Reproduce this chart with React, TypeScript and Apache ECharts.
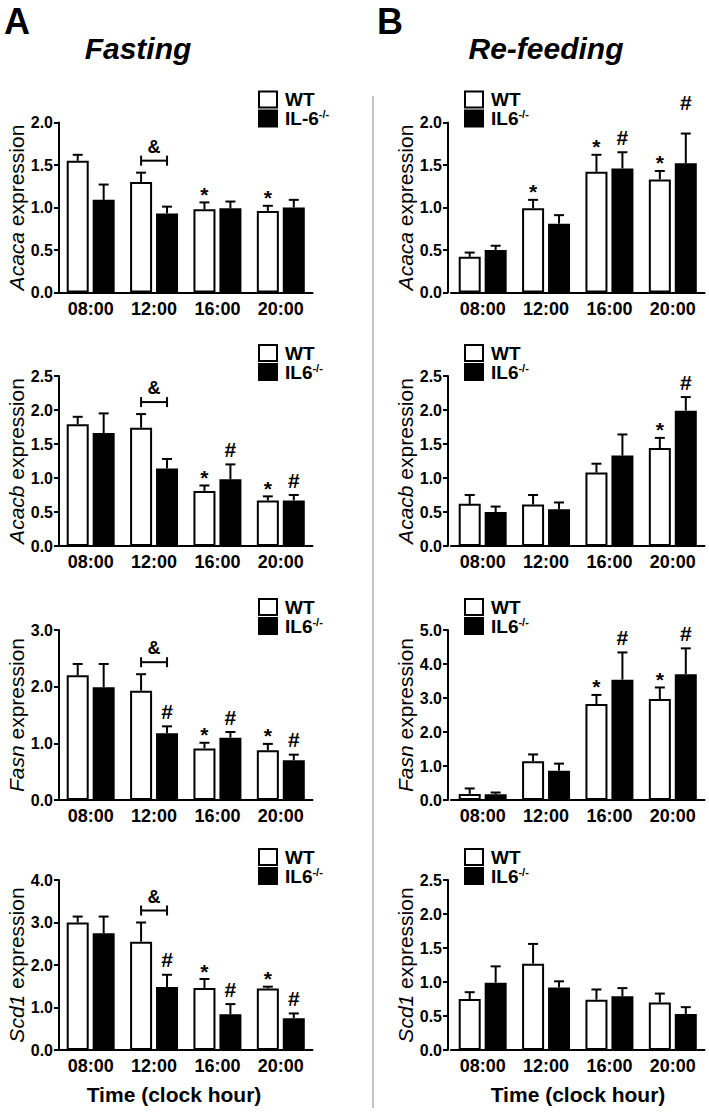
import React, { useEffect, useRef } from "react";
import * as echarts from "echarts";

const categories = ["08:00", "12:00", "16:00", "20:00"];

// ---------- A: Fasting ----------
const acacaFastTicks = [0, 0.5, 1.0, 1.5, 2.0];
const acacaFastWT = [1.55, 1.3, 0.98, 0.96];
const acacaFastWTSem = [0.07, 0.11, 0.08, 0.06];
const acacaFastKO = [1.09, 0.93, 0.99, 1.0];
const acacaFastKOSem = [0.18, 0.08, 0.08, 0.09];
const acacaFastWTMarks = ["", "", "*", "*"];
const acacaFastKOMarks = ["", "", "", ""];

const acacbFastTicks = [0, 0.5, 1.0, 1.5, 2.0, 2.5];
const acacbFastWT = [1.79, 1.74, 0.81, 0.67];
const acacbFastWTSem = [0.11, 0.2, 0.08, 0.06];
const acacbFastKO = [1.66, 1.14, 0.98, 0.67];
const acacbFastKOSem = [0.29, 0.14, 0.22, 0.08];
const acacbFastWTMarks = ["", "", "*", "*"];
const acacbFastKOMarks = ["", "", "#", "#"];

const fasnFastTicks = [0, 1.0, 2.0, 3.0];
const fasnFastWT = [2.2, 1.93, 0.91, 0.88];
const fasnFastWTSem = [0.2, 0.29, 0.1, 0.11];
const fasnFastKO = [1.99, 1.18, 1.1, 0.7];
const fasnFastKOSem = [0.41, 0.12, 0.1, 0.1];
const fasnFastWTMarks = ["", "", "*", "*"];
const fasnFastKOMarks = ["", "#", "#", "#"];

const scd1FastTicks = [0, 1.0, 2.0, 3.0, 4.0];
const scd1FastWT = [3.0, 2.55, 1.46, 1.45];
const scd1FastWTSem = [0.14, 0.45, 0.21, 0.04];
const scd1FastKO = [2.75, 1.48, 0.84, 0.75];
const scd1FastKOSem = [0.39, 0.29, 0.24, 0.11];
const scd1FastWTMarks = ["", "", "*", "*"];
const scd1FastKOMarks = ["", "#", "#", "#"];

// ---------- B: Re-feeding ----------
const acacaRefTicks = [0, 0.5, 1.0, 1.5, 2.0];
const acacaRefWT = [0.42, 0.99, 1.42, 1.33];
const acacaRefWTSem = [0.05, 0.1, 0.2, 0.1];
const acacaRefKO = [0.5, 0.81, 1.46, 1.52];
const acacaRefKOSem = [0.05, 0.1, 0.19, 0.35];
const acacaRefWTMarks = ["", "*", "*", "*"];
const acacaRefKOMarks = ["", "", "#", "#"];
// the "#" over 20:00 sits higher than its error bar, at this level
const acacaRefKOMarkLevels = [null, null, null, 2.23];

const acacbRefTicks = [0, 0.5, 1.0, 1.5, 2.0, 2.5];
const acacbRefWT = [0.62, 0.61, 1.08, 1.44];
const acacbRefWTSem = [0.13, 0.14, 0.13, 0.15];
const acacbRefKO = [0.5, 0.54, 1.33, 1.99];
const acacbRefKOSem = [0.08, 0.1, 0.31, 0.2];
const acacbRefWTMarks = ["", "", "", "*"];
const acacbRefKOMarks = ["", "", "", "#"];

const fasnRefTicks = [0, 1.0, 2.0, 3.0, 4.0, 5.0];
const fasnRefWT = [0.18, 1.14, 2.82, 2.97];
const fasnRefWTSem = [0.16, 0.2, 0.27, 0.34];
const fasnRefKO = [0.17, 0.86, 3.54, 3.7];
const fasnRefKOSem = [0.05, 0.21, 0.8, 0.76];
const fasnRefWTMarks = ["", "", "*", "*"];
const fasnRefKOMarks = ["", "", "#", "#"];

const scd1RefTicks = [0, 0.5, 1.0, 1.5, 2.0, 2.5];
const scd1RefWT = [0.75, 1.27, 0.74, 0.7];
const scd1RefWTSem = [0.1, 0.29, 0.15, 0.13];
const scd1RefKO = [0.99, 0.92, 0.79, 0.53];
const scd1RefKOSem = [0.24, 0.09, 0.12, 0.1];
const scd1RefWTMarks = ["", "", "", ""];
const scd1RefKOMarks = ["", "", "", ""];

const FONT = '"Liberation Sans", Arial, Helvetica, sans-serif';
const GRID_LEFT = [59, 451];
const GRID_W = 253.5;
const GRID_H = 170;
const ROW_TOP = [122.5, 376, 630, 880];
const BAR_W = 22;
const BAR_GAP = 0.18;
const OFF = (BAR_W * (1 + BAR_GAP)) / 2;
const LEG_BOX_X = [259, 465];
const LEG_TEXT_X = [285, 491];
const YNAME_X = [16, 405];

type Panel = {
  col: number;
  row: number;
  gene: string;
  ticks: number[];
  wt: number[];
  wtSem: number[];
  ko: number[];
  koSem: number[];
  wtMarks: string[];
  koMarks: string[];
  koMarkLevels?: (number | null)[];
  bracket: boolean;
  koName: string;
};

const panels: Panel[] = [
  { col: 0, row: 0, gene: "Acaca", ticks: acacaFastTicks, wt: acacaFastWT, wtSem: acacaFastWTSem, ko: acacaFastKO, koSem: acacaFastKOSem, wtMarks: acacaFastWTMarks, koMarks: acacaFastKOMarks, bracket: true, koName: "IL-6" },
  { col: 0, row: 1, gene: "Acacb", ticks: acacbFastTicks, wt: acacbFastWT, wtSem: acacbFastWTSem, ko: acacbFastKO, koSem: acacbFastKOSem, wtMarks: acacbFastWTMarks, koMarks: acacbFastKOMarks, bracket: true, koName: "IL6" },
  { col: 0, row: 2, gene: "Fasn", ticks: fasnFastTicks, wt: fasnFastWT, wtSem: fasnFastWTSem, ko: fasnFastKO, koSem: fasnFastKOSem, wtMarks: fasnFastWTMarks, koMarks: fasnFastKOMarks, bracket: true, koName: "IL6" },
  { col: 0, row: 3, gene: "Scd1", ticks: scd1FastTicks, wt: scd1FastWT, wtSem: scd1FastWTSem, ko: scd1FastKO, koSem: scd1FastKOSem, wtMarks: scd1FastWTMarks, koMarks: scd1FastKOMarks, bracket: true, koName: "IL6" },
  { col: 1, row: 0, gene: "Acaca", ticks: acacaRefTicks, wt: acacaRefWT, wtSem: acacaRefWTSem, ko: acacaRefKO, koSem: acacaRefKOSem, wtMarks: acacaRefWTMarks, koMarks: acacaRefKOMarks, koMarkLevels: acacaRefKOMarkLevels, bracket: false, koName: "IL6" },
  { col: 1, row: 1, gene: "Acacb", ticks: acacbRefTicks, wt: acacbRefWT, wtSem: acacbRefWTSem, ko: acacbRefKO, koSem: acacbRefKOSem, wtMarks: acacbRefWTMarks, koMarks: acacbRefKOMarks, bracket: false, koName: "IL6" },
  { col: 1, row: 2, gene: "Fasn", ticks: fasnRefTicks, wt: fasnRefWT, wtSem: fasnRefWTSem, ko: fasnRefKO, koSem: fasnRefKOSem, wtMarks: fasnRefWTMarks, koMarks: fasnRefKOMarks, bracket: false, koName: "IL6" },
  { col: 1, row: 3, gene: "Scd1", ticks: scd1RefTicks, wt: scd1RefWT, wtSem: scd1RefWTSem, ko: scd1RefKO, koSem: scd1RefKOSem, wtMarks: scd1RefWTMarks, koMarks: scd1RefKOMarks, bracket: false, koName: "IL6" },
];

type Item = { kind: string; cat: number; mean: number; top: number; s: number; text?: string; level?: number | null };

function buildItems(p: Panel): Item[] {
  const items: Item[] = [];
  for (let c = 0; c < categories.length; c++) {
    const wtTop = p.wt[c] + p.wtSem[c];
    const koTop = p.ko[c] + p.koSem[c];
    items.push({ kind: "err", cat: c, mean: p.wt[c], top: wtTop, s: -1 });
    items.push({ kind: "err", cat: c, mean: p.ko[c], top: koTop, s: 1 });
    if (p.wtMarks[c]) items.push({ kind: "mark", cat: c, mean: p.wt[c], top: wtTop, s: -1, text: p.wtMarks[c] });
    if (p.koMarks[c]) {
      const lv = p.koMarkLevels ? p.koMarkLevels[c] : null;
      items.push({ kind: "mark", cat: c, mean: p.ko[c], top: koTop, s: 1, text: p.koMarks[c], level: lv });
    }
  }
  if (p.bracket) {
    items.push({ kind: "bracket", cat: 1, mean: p.wt[1], top: p.wt[1] + p.wtSem[1], s: 0, text: "&" });
  }
  return items;
}

const BLACK = "#000";

function buildOption() {
  const grid: any[] = [];
  const xAxis: any[] = [];
  const yAxis: any[] = [];
  const series: any[] = [];
  const graphic: any[] = [];

  panels.forEach((p, i) => {
    const top = ROW_TOP[p.row];
    grid.push({ left: GRID_LEFT[p.col], top, width: GRID_W, height: GRID_H });
    xAxis.push({
      type: "category",
      gridIndex: i,
      data: categories,
      boundaryGap: true,
      axisLine: { lineStyle: { color: BLACK, width: 2 } },
      axisTick: { alignWithLabel: true, length: 6, lineStyle: { color: BLACK, width: 2 } },
      axisLabel: { color: BLACK, fontSize: 18, fontWeight: "bold", fontFamily: FONT, margin: 7, interval: 0 },
      splitLine: { show: false },
    });
    const tmin = p.ticks[0];
    const tmax = p.ticks[p.ticks.length - 1];
    const interval = p.ticks[1] - p.ticks[0];
    yAxis.push({
      type: "value",
      gridIndex: i,
      min: tmin,
      max: tmax,
      interval,
      offset: p.col === 1 ? 3 : 0,
      axisLine: { show: true, lineStyle: { color: BLACK, width: 2 } },
      axisTick: { show: true, length: 5, lineStyle: { color: BLACK, width: 2 } },
      axisLabel: {
        color: BLACK,
        fontSize: 16,
        fontWeight: "bold",
        fontFamily: FONT,
        margin: 6,
        formatter: (v: number) => v.toFixed(1),
      },
      splitLine: { show: false },
    });
    series.push({
      type: "bar",
      name: "WT",
      xAxisIndex: i,
      yAxisIndex: i,
      data: p.wt,
      barWidth: BAR_W,
      barGap: BAR_GAP * 100 + "%",
      itemStyle: { color: "#fff", borderColor: BLACK, borderWidth: 2 },
      silent: true,
    });
    series.push({
      type: "bar",
      name: "KO",
      xAxisIndex: i,
      yAxisIndex: i,
      data: p.ko,
      barWidth: BAR_W,
      barGap: BAR_GAP * 100 + "%",
      itemStyle: { color: BLACK, borderColor: BLACK, borderWidth: 2 },
      silent: true,
    });
    const items = buildItems(p);
    series.push({
      type: "custom",
      xAxisIndex: i,
      yAxisIndex: i,
      silent: true,
      clip: false,
      z: 5,
      encode: { x: 0, y: 1 },
      data: items.map((it) => [it.cat, it.top]),
      renderItem: (params: any, api: any) => {
        const it = items[params.dataIndex];
        const b = api.coord([it.cat, it.mean]);
        const t = api.coord([it.cat, it.top]);
        const cx = b[0] + it.s * OFF;
        if (it.kind === "err") {
          return {
            type: "group",
            children: [
              { type: "line", shape: { x1: cx, y1: b[1], x2: cx, y2: t[1] }, style: { stroke: BLACK, lineWidth: 2 } },
              { type: "line", shape: { x1: cx - 5, y1: t[1], x2: cx + 5, y2: t[1] }, style: { stroke: BLACK, lineWidth: 2 } },
            ],
          };
        }
        if (it.kind === "mark") {
          const star = it.text === "*";
          let y = t[1] - (star ? 8 : 15);
          if (it.level != null) y = api.coord([it.cat, it.level])[1];
          return {
            type: "text",
            x: cx,
            y,
            style: {
              text: it.text,
              fill: BLACK,
              font: `bold ${star ? 21 : 21}px ${FONT}`,
              align: "center",
              verticalAlign: "middle",
            },
          };
        }
        // bracket
        const by = t[1] - 12;
        const x1 = b[0] - OFF;
        const x2 = b[0] + OFF;
        return {
          type: "group",
          children: [
            { type: "line", shape: { x1, y1: by, x2, y2: by }, style: { stroke: BLACK, lineWidth: 2 } },
            { type: "line", shape: { x1, y1: by - 5, x2: x1, y2: by + 5 }, style: { stroke: BLACK, lineWidth: 2 } },
            { type: "line", shape: { x1: x2, y1: by - 5, x2, y2: by + 5 }, style: { stroke: BLACK, lineWidth: 2 } },
            {
              type: "text",
              x: (x1 + x2) / 2,
              y: by - 14,
              style: { text: it.text, fill: BLACK, font: `bold 18px ${FONT}`, align: "center", verticalAlign: "middle" },
            },
          ],
        };
      },
    });

    // legend
    const bx = LEG_BOX_X[p.col];
    const tx = LEG_TEXT_X[p.col];
    const wtY = top - 23;
    const koY = top - 4;
    graphic.push({
      type: "rect",
      shape: { x: bx, y: wtY - 8, width: 18, height: 16 },
      style: { fill: "#fff", stroke: BLACK, lineWidth: 2 },
    });
    graphic.push({
      type: "rect",
      shape: { x: bx, y: koY - 8, width: 18, height: 16 },
      style: { fill: BLACK, stroke: BLACK, lineWidth: 2 },
    });
    graphic.push({
      type: "text",
      x: tx,
      y: wtY,
      style: { text: "WT", fill: BLACK, font: `bold 19px ${FONT}`, align: "left", verticalAlign: "middle" },
    });
    graphic.push({
      type: "text",
      x: tx,
      y: koY,
      style: {
        text: `{m|${p.koName}}{s|-/-}`,
        fill: BLACK,
        font: `bold 19px ${FONT}`,
        align: "left",
        verticalAlign: "middle",
        rich: {
          m: { fontSize: 19, fontWeight: "bold", fontFamily: FONT, fill: BLACK, lineHeight: 20 },
          s: { fontSize: 11, fontWeight: "bold", fontFamily: FONT, fill: BLACK, lineHeight: 20, verticalAlign: "top" },
        },
      },
    });
    // y axis name
    graphic.push({
      type: "text",
      x: YNAME_X[p.col],
      y: top + GRID_H / 2,
      rotation: Math.PI / 2,
      style: {
        text: `{i|${p.gene}} {n|expression}`,
        fill: BLACK,
        font: `21px ${FONT}`,
        align: "center",
        verticalAlign: "middle",
        rich: {
          i: { fontSize: 21, fontStyle: "italic", fontFamily: FONT, fill: BLACK },
          n: { fontSize: 21, fontFamily: FONT, fill: BLACK },
        },
      },
    });
  });

  // headers
  graphic.push({ type: "text", x: 17, y: 21, style: { text: "A", fill: BLACK, font: `bold 36px ${FONT}`, align: "center", verticalAlign: "middle" } });
  graphic.push({ type: "text", x: 390, y: 21, style: { text: "B", fill: BLACK, font: `bold 36px ${FONT}`, align: "center", verticalAlign: "middle" } });
  graphic.push({ type: "text", x: 138, y: 48, style: { text: "Fasting", fill: BLACK, font: `italic bold 30px ${FONT}`, align: "center", verticalAlign: "middle" } });
  graphic.push({ type: "text", x: 546, y: 48, style: { text: "Re-feeding", fill: BLACK, font: `italic bold 30px ${FONT}`, align: "center", verticalAlign: "middle" } });
  // x titles
  graphic.push({ type: "text", x: 174, y: 1094, style: { text: "Time (clock hour)", fill: BLACK, font: `bold 21px ${FONT}`, align: "center", verticalAlign: "middle" } });
  graphic.push({ type: "text", x: 578, y: 1094, style: { text: "Time (clock hour)", fill: BLACK, font: `bold 21px ${FONT}`, align: "center", verticalAlign: "middle" } });
  // separator
  graphic.push({ type: "line", shape: { x1: 373, y1: 96, x2: 373, y2: 1108 }, style: { stroke: "#c4c4c4", lineWidth: 2 } });

  return {
    animation: false,
    backgroundColor: "#fff",
    grid,
    xAxis,
    yAxis,
    series,
    graphic: { elements: graphic },
  };
}

export default function App() {
  const ref = useRef<HTMLDivElement>(null);
  useEffect(() => {
    document.body.style.margin = "0";
    if (!ref.current) return;
    const chart = echarts.init(ref.current, undefined, { renderer: "svg" });
    chart.setOption(buildOption() as any);
    return () => chart.dispose();
  }, []);
  return <div ref={ref} style={{ width: 709, height: 1119 }} />;
}
